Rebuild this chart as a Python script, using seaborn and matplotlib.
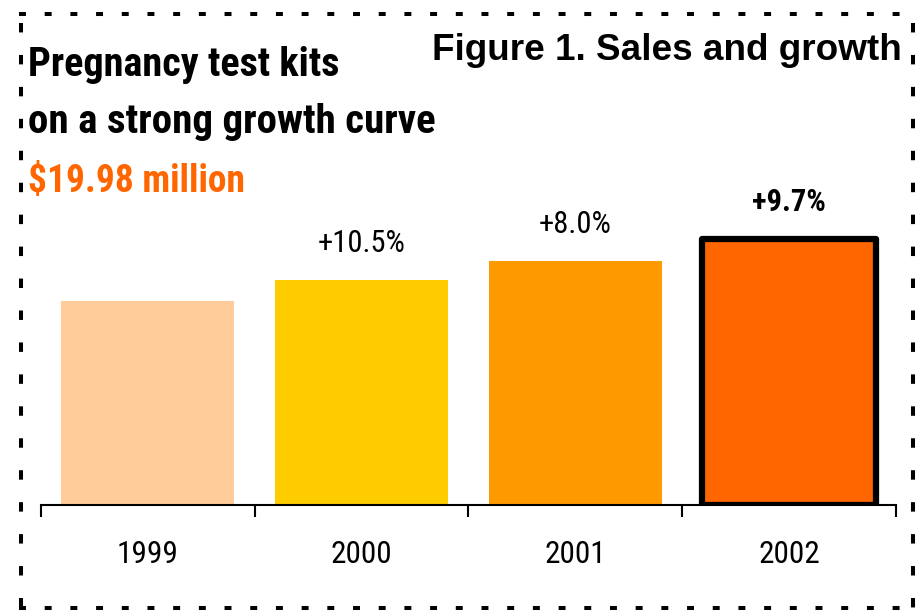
import matplotlib
matplotlib.use("Agg")
import matplotlib.pyplot as plt
from matplotlib.lines import Line2D
import seaborn as sns
import pandas as pd

years = ["1999", "2000", "2001", "2002"]
sales = [15.3, 16.9, 18.3, 19.98]
growth_labels = ["", "+10.5%", "+8.0%", "+9.7%"]
bar_colors = ["#FFCC99", "#FFCC00", "#FF9900", "#FF6600"]
title_lines = ["Pregnancy test kits", "on a strong growth curve"]
total_label = "$19.98 million"
fig_title = "Figure 1. Sales and growth"

sns.set_theme(style="white")
NARROW = ["Roboto Condensed", "DejaVu Sans"]
plt.rcParams["font.family"] = NARROW
plt.rcParams["lines.scale_dashes"] = False

W, H = 918, 612
fig = plt.figure(figsize=(W / 100, H / 100), dpi=100)
ax_left, ax_right, ax_bottom, ax_top = 40.7, 896, 505, 105
ax = fig.add_axes([ax_left / W, 1 - ax_bottom / H, (ax_right - ax_left) / W, (ax_bottom - ax_top) / H])

df = pd.DataFrame({"year": years, "sales": sales})
sns.barplot(data=df, x="year", y="sales", hue="year", palette=bar_colors,
            legend=False, width=0.81, saturation=1, ax=ax, linewidth=0)

last = ax.patches[3]
last.set_edgecolor("black")
last.set_linewidth(4.5)
last.set_joinstyle("round")

ax.set_xlim(-0.5, 3.5)
ax.set_ylim(0, (ax_bottom - ax_top) / 13.31)
for s in ["top", "right", "left"]:
    ax.spines[s].set_visible(False)
ax.spines["bottom"].set_color("black")
ax.spines["bottom"].set_linewidth(1.5)
ax.set_yticks([])
ax.set_xlabel("")
ax.set_ylabel("")
ax.set_xticks(range(len(years)))
ax.set_xticklabels(years, fontsize=22.5)
ax.tick_params(axis="x", which="major", length=0, pad=25.5, colors="black")
ax.set_xticks([-0.5, 0.5, 1.5, 2.5, 3.5], minor=True)
ax.tick_params(axis="x", which="minor", bottom=True, length=8.6, width=1.5,
               direction="out", color="black")
ax.set_zorder(1)

for i, (v, lab) in enumerate(zip(sales, growth_labels)):
    if not lab:
        continue
    ax.annotate(lab, xy=(i, v), xytext=(0, 26.5), textcoords="offset points",
                ha="center", va="center", fontsize=22,
                fontweight="bold" if i == 3 else "normal", color="black")

fig.text(28 / W, 1 - 76 / H, title_lines[0], fontsize=29.0, fontweight="bold",
         ha="left", va="baseline", color="black")
fig.text(28 / W, 1 - 133 / H, title_lines[1], fontsize=29.5, fontweight="bold",
         ha="left", va="baseline", color="black")
fig.text(28 / W, 1 - 192 / H, total_label, fontsize=27, fontweight="bold",
         ha="left", va="baseline", color="#FF6600")
fig.text(902 / W, 1 - 60 / H, fig_title, fontsize=26.6, fontweight="bold",
         ha="right", va="baseline", color="black",
         family=["Liberation Sans", "DejaVu Sans"])

# dashed border
lw = 2.9
hd = (0, (5.0, 13.5))
vd = (0, (6.8, 16.2))
top_y, bot_y, left_x, right_x = 14, 608, 21, 913
for y in (top_y, bot_y):
    ln = Line2D([19 / W, 918 / W], [1 - y / H, 1 - y / H], transform=fig.transFigure,
                color="black", linewidth=lw, linestyle=hd, dash_capstyle="butt")
    fig.add_artist(ln)
for x in (left_x, right_x):
    ln = Line2D([x / W, x / W], [1 - 23 / H, 0], transform=fig.transFigure,
                color="black", linewidth=lw, linestyle=vd, dash_capstyle="butt")
    fig.add_artist(ln)

fig.savefig("out.png", dpi=100, facecolor="white")
